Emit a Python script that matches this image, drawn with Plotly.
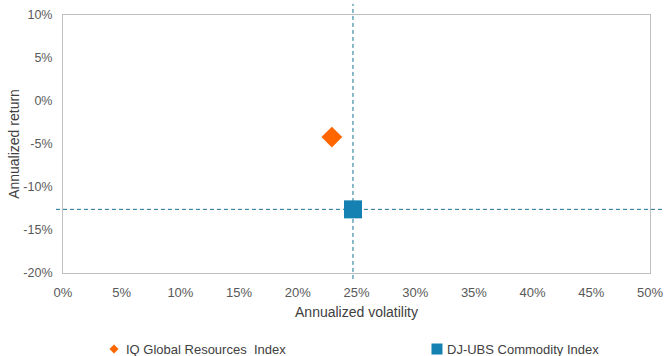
import plotly.graph_objects as go

# Data
series_names = ["IQ Global Resources  Index", "DJ-UBS Commodity Index"]
volatility = [22.9, 24.7]      # annualized volatility, %
returns = [-4.2, -12.6]        # annualized return, %
colors = ["#FF6600", "#1481B2"]
symbols = ["diamond", "square"]
marker_sizes = [16, 18]

x_ticks = [0, 5, 10, 15, 20, 25, 30, 35, 40, 45, 50]
y_ticks = [-20, -15, -10, -5, 0, 5, 10]
x_tick_labels = [f"{v}%" for v in x_ticks]
y_tick_labels = [f"{v}%" for v in y_ticks]

FONT = "Liberation Sans, Arial, sans-serif"
TICK_COLOR = "#595959"
TITLE_COLOR = "#404040"

fig = go.Figure()
for name, x, y, c, s, sz in zip(series_names, volatility, returns, colors, symbols, marker_sizes):
    fig.add_trace(go.Scatter(
        x=[x], y=[y], mode="markers", name=name,
        marker=dict(symbol=s, color=c, size=sz, line=dict(width=0)),
        showlegend=False,
    ))

# Crosshair through the DJ-UBS point
ref_x, ref_y = volatility[1], returns[1]
line_style = dict(color="#1A7194", width=1, dash="4px,3px")
fig.add_shape(type="line", xref="x", yref="paper", x0=ref_x, x1=ref_x,
              y0=-0.023, y1=1.043, line=line_style, layer="below")
fig.add_shape(type="line", xref="paper", yref="y", x0=-0.012, x1=1.03,
              y0=ref_y, y1=ref_y, line=line_style, layer="below")

# Legend built from swatch shapes + text annotations (bottom row)
legend_y = -0.2946
legend_swatch_x = [0.0869, 0.6371]
legend_text_x = [0.1039, 0.651]

# diamond swatch
fig.add_shape(type="path", xref="paper", yref="paper",
              xsizemode="pixel", ysizemode="pixel",
              xanchor=legend_swatch_x[0], yanchor=legend_y,
              path="M -4.5 0 L 0 4.5 L 4.5 0 L 0 -4.5 Z",
              fillcolor=colors[0], line=dict(width=0))
# square swatch
fig.add_shape(type="rect", xref="paper", yref="paper",
              xsizemode="pixel", ysizemode="pixel",
              xanchor=legend_swatch_x[1], yanchor=legend_y,
              x0=-5.5, x1=5.5, y0=-5.5, y1=5.5,
              fillcolor=colors[1], line=dict(width=0))

for tx, name in zip(legend_text_x, series_names):
    fig.add_annotation(x=tx, y=legend_y, xref="paper", yref="paper",
                       text=name.replace(" ", "\u00a0"),
                       showarrow=False, xanchor="left", yanchor="middle",
                       font=dict(family=FONT, size=13, color=TITLE_COLOR))

axis_common = dict(
    showgrid=False, zeroline=False, showline=True, linecolor="#BFBFBF",
    linewidth=1, mirror=True, ticks="", automargin=False,
)

fig.update_layout(
    width=664, height=356,
    margin=dict(l=63, r=14, t=15, b=83),
    paper_bgcolor="white", plot_bgcolor="white",
    xaxis=dict(range=[0, 50], tickvals=x_ticks, ticktext=x_tick_labels,
               tickfont=dict(family=FONT, size=13, color=TICK_COLOR),
               title=dict(text="Annualized volatility", standoff=8,
                          font=dict(family=FONT, size=14, color=TITLE_COLOR)),
               ticklabelstandoff=7, **axis_common),
    yaxis=dict(range=[-20, 10], tickvals=y_ticks, ticktext=y_tick_labels,
               tickfont=dict(family=FONT, size=12.5, color=TICK_COLOR),
               title=dict(text="Annualized return", standoff=0,
                          font=dict(family=FONT, size=14, color=TITLE_COLOR)),
               ticklabelstandoff=7, **axis_common),
)

fig.write_html("out.html")
